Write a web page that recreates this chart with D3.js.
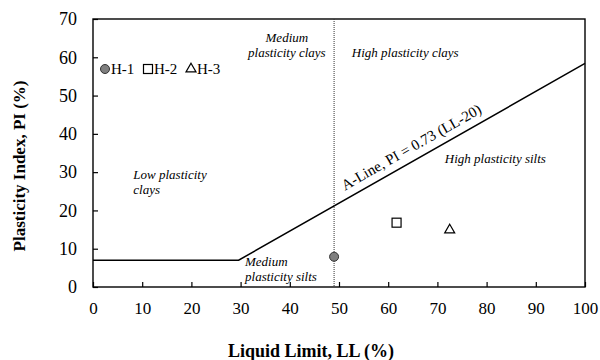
<!DOCTYPE html>
<html>
<head>
<meta charset="utf-8">
<script src="https://cdn.jsdelivr.net/npm/d3@7"></script>
<style>
  html, body { margin: 0; padding: 0; background: #fff; }
  svg { display: block; font-family: "Liberation Serif", "Times New Roman", serif; }
</style>
</head>
<body>
<svg id="chart" width="600" height="360"></svg>
<script>
// ---- data ----
const samples = ["H-1", "H-2", "H-3"];
const sampleLL = [49.0, 61.7, 72.5];
const samplePI = [7.9, 16.8, 14.9];
const sampleShapes = ["circle", "square", "triangle"];

const aLineLL = [0, 29.6, 100];
const aLinePI = [7, 7, 58.4];
const dividerLL = 49;

const xTicks = [0, 10, 20, 30, 40, 50, 60, 70, 80, 90, 100];
const yTicks = [0, 10, 20, 30, 40, 50, 60, 70];

const regionLabels = [
  { lines: ["Low plasticity", "clays"], LL: 8.2, PI: 28.1, anchor: "start" },
  { lines: ["Medium", "plasticity clays"], LL: 39.4, PI: 63.9, anchor: "middle" },
  { lines: ["High plasticity clays"], LL: 52.6, PI: 60.1, anchor: "start" },
  { lines: ["High plasticity silts"], LL: 71.5, PI: 32.3, anchor: "start" },
  { lines: ["Medium", "plasticity silts"], LL: 30.9, PI: 5.5, anchor: "start" }
];
const aLineLabel = "A-Line, PI = 0.73 (LL-20)";
const aLineLabelLL = 66;

// ---- layout ----
const svg = d3.select("#chart");
const x = d3.scaleLinear().domain([0, 100]).range([93, 585]);
const y = d3.scaleLinear().domain([0, 70]).range([287, 19]);

// axes (inward ticks)
const xAxis = svg.append("g")
  .attr("transform", `translate(0,${y(0)})`)
  .call(d3.axisBottom(x).tickValues(xTicks).tickSize(-5).tickPadding(15).tickFormat(d3.format("d")));
const yAxis = svg.append("g")
  .attr("transform", `translate(${x(0)},0)`)
  .call(d3.axisLeft(y).tickValues(yTicks).tickSize(-5).tickPadding(16).tickFormat(d3.format("d")));
[xAxis, yAxis].forEach(g => {
  g.select(".domain").remove();
  g.selectAll(".tick line").attr("stroke", "#000").attr("stroke-width", 1.2);
  g.selectAll(".tick text").attr("fill", "#000")
    .style("font-family", "'Liberation Serif', 'Times New Roman', serif");
});
xAxis.selectAll(".tick text").style("font-size", "17px");
yAxis.selectAll(".tick text").style("font-size", "18px");

// plot border
svg.append("rect")
  .attr("x", x(0)).attr("y", y(70))
  .attr("width", x(100) - x(0)).attr("height", y(0) - y(70))
  .attr("fill", "none").attr("stroke", "#000").attr("stroke-width", 1.4);

// divider (dotted)
svg.append("line")
  .attr("x1", x(dividerLL)).attr("x2", x(dividerLL))
  .attr("y1", y(70)).attr("y2", y(0))
  .attr("stroke", "#333").attr("stroke-width", 1).attr("stroke-dasharray", "1,1");

// A-line
const aPts = aLineLL.map((v, i) => [v, aLinePI[i]]);
svg.append("path")
  .datum(aPts)
  .attr("d", d3.line().x(d => x(d[0])).y(d => y(d[1])))
  .attr("fill", "none").attr("stroke", "#000").attr("stroke-width", 1.5);

// A-line label
const ang = Math.atan2(y(aLinePI[2]) - y(aLinePI[1]), x(aLineLL[2]) - x(aLineLL[1])) * 180 / Math.PI;
const slope = (aLinePI[2] - aLinePI[1]) / (aLineLL[2] - aLineLL[1]);
const lblPI = aLinePI[1] + slope * (aLineLabelLL - aLineLL[1]);
svg.append("text")
  .attr("transform", `translate(${x(aLineLabelLL)},${y(lblPI)}) rotate(${ang})`)
  .attr("x", 0).attr("y", -8)
  .attr("text-anchor", "middle")
  .style("font-size", "15px")
  .text(aLineLabel);

// region labels
regionLabels.forEach(r => {
  const t = svg.append("text")
    .attr("x", x(r.LL)).attr("y", y(r.PI))
    .attr("text-anchor", r.anchor)
    .style("font-size", "13px").style("font-style", "italic");
  r.lines.forEach((ln, i) => {
    t.append("tspan").attr("x", x(r.LL)).attr("dy", i === 0 ? 0 : 15).text(ln);
  });
});

// markers
function drawMarker(g, shape, cx, cy) {
  if (shape === "circle") {
    g.append("circle").attr("cx", cx).attr("cy", cy).attr("r", 4.5)
      .attr("fill", "#7f7f7f").attr("stroke", "#333").attr("stroke-width", 1);
  } else if (shape === "square") {
    g.append("rect").attr("x", cx - 4.5).attr("y", cy - 4.5).attr("width", 9).attr("height", 9)
      .attr("fill", "#fff").attr("stroke", "#000").attr("stroke-width", 1.2);
  } else {
    const s = 10, h = s * Math.sqrt(3) / 2;
    g.append("path")
      .attr("d", `M${cx},${cy - h * 2 / 3}L${cx + s / 2},${cy + h / 3}L${cx - s / 2},${cy + h / 3}Z`)
      .attr("fill", "#fff").attr("stroke", "#000").attr("stroke-width", 1.2);
  }
}
const pts = svg.append("g");
samples.forEach((s, i) => drawMarker(pts, sampleShapes[i], x(sampleLL[i]), y(samplePI[i])));

// legend
const legend = svg.append("g");
const legX = [105, 148, 191];
samples.forEach((s, i) => {
  drawMarker(legend, sampleShapes[i], legX[i], 69);
  legend.append("text")
    .attr("x", legX[i] + 6).attr("y", 74)
    .style("font-size", "15px")
    .text(s);
});

// axis titles
svg.append("text")
  .attr("x", 311).attr("y", 357)
  .attr("text-anchor", "middle")
  .style("font-size", "18px").style("font-weight", "bold")
  .text("Liquid Limit, LL (%)");
svg.append("text")
  .attr("transform", "translate(25,166) rotate(-90)")
  .attr("text-anchor", "middle")
  .style("font-size", "17px").style("font-weight", "bold")
  .text("Plasticity Index, PI (%)");
</script>
</body>
</html>
